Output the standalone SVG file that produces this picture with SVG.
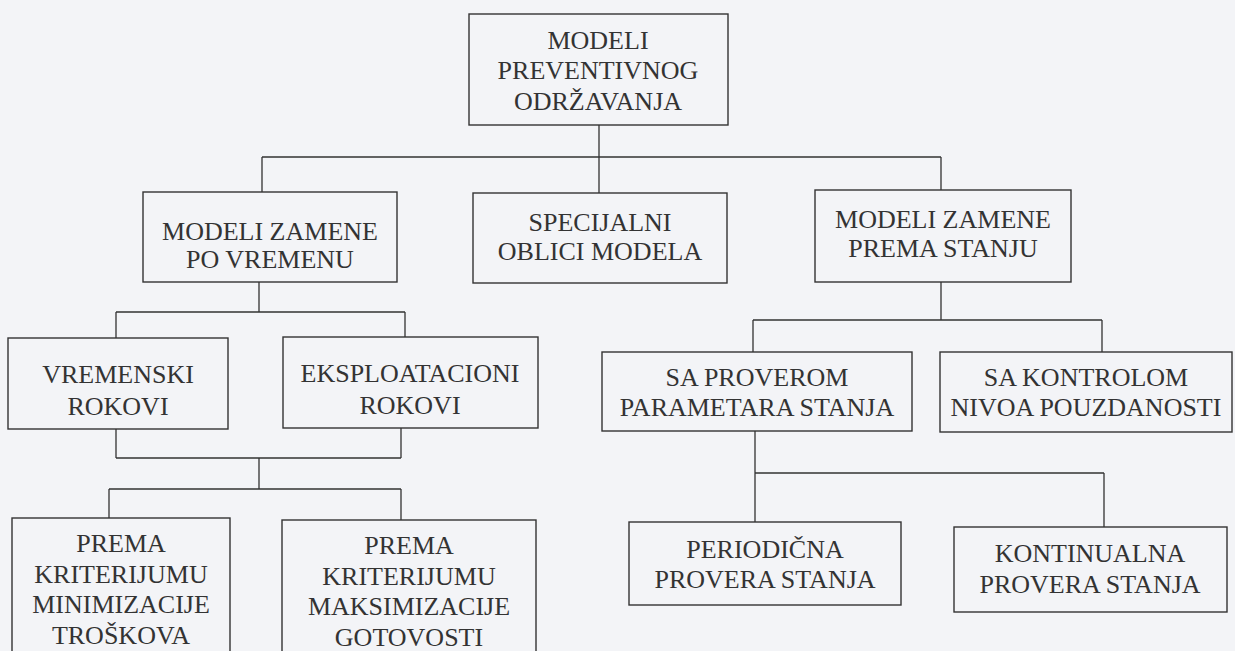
<svg xmlns="http://www.w3.org/2000/svg" width="1235" height="651" viewBox="0 0 1235 651">
<style>
.bg{fill:#f3f4f7}
.box{fill:none;stroke:#333;stroke-width:1.4}
.con{fill:none;stroke:#333;stroke-width:1.3}
.t{font-family:'Liberation Serif','DejaVu Serif',serif;font-size:26px;fill:#333;text-anchor:middle}
</style>
<rect class="bg" x="0" y="0" width="1235" height="651"/>
<g id="connectors">
<path class="con" d="M599 125V157M262 157H941M262 157V192M599 157V193M941 157V190"/>
<path class="con" d="M259 282V312M116 312H405M116 312V338M405 312V337"/>
<path class="con" d="M116 429V458M401 428V458M116 458H401M259 458V489M109 489H401M109 489V518M401 489V520"/>
<path class="con" d="M941 282V320M753 320H1102M753 320V352M1102 320V352"/>
<path class="con" d="M755 431V522M755 473H1104M1104 473V527"/>
</g>
<g font-family="Liberation Serif, DejaVu Serif, serif" font-size="26" fill="#333" text-anchor="middle">
<g id="root">
<rect class="box" x="469" y="14" width="259" height="111"/>
<text class="t" x="598" y="49">MODELI</text>
<text class="t" x="598" y="79">PREVENTIVNOG</text>
<text class="t" x="598" y="110">ODRŽAVANJA</text>
</g>
<g id="po-vremenu">
<rect class="box" x="143" y="192" width="254" height="90"/>
<text class="t" x="270" y="240">MODELI ZAMENE</text>
<text class="t" x="270" y="268">PO VREMENU</text>
</g>
<g id="specijalni">
<rect class="box" x="473" y="193" width="254" height="90"/>
<text class="t" x="600" y="231">SPECIJALNI</text>
<text class="t" x="600" y="260">OBLICI MODELA</text>
</g>
<g id="prema-stanju">
<rect class="box" x="815" y="190" width="256" height="92"/>
<text class="t" x="943" y="228">MODELI ZAMENE</text>
<text class="t" x="943" y="257">PREMA STANJU</text>
</g>
<g id="vremenski">
<rect class="box" x="8" y="338" width="220" height="91"/>
<text class="t" x="118" y="383">VREMENSKI</text>
<text class="t" x="118" y="415">ROKOVI</text>
</g>
<g id="eksploatacioni">
<rect class="box" x="283" y="337" width="255" height="91"/>
<text class="t" x="410" y="382">EKSPLOATACIONI</text>
<text class="t" x="410" y="414">ROKOVI</text>
</g>
<g id="sa-proverom">
<rect class="box" x="602" y="352" width="310" height="79"/>
<text class="t" x="757" y="386">SA PROVEROM</text>
<text class="t" x="757" y="416">PARAMETARA STANJA</text>
</g>
<g id="sa-kontrolom">
<rect class="box" x="940" y="352" width="292" height="80"/>
<text class="t" x="1086" y="386">SA KONTROLOM</text>
<text class="t" x="1086" y="416">NIVOA POUZDANOSTI</text>
</g>
<g id="minimizacije">
<rect class="box" x="12" y="518" width="218" height="150"/>
<text class="t" x="121" y="552">PREMA</text>
<text class="t" x="121" y="583">KRITERIJUMU</text>
<text class="t" x="121" y="613">MINIMIZACIJE</text>
<text class="t" x="121" y="644">TROŠKOVA</text>
</g>
<g id="maksimizacije">
<rect class="box" x="282" y="520" width="254" height="150"/>
<text class="t" x="409" y="554">PREMA</text>
<text class="t" x="409" y="585">KRITERIJUMU</text>
<text class="t" x="409" y="615">MAKSIMIZACIJE</text>
<text class="t" x="409" y="646">GOTOVOSTI</text>
</g>
<g id="periodicna">
<rect class="box" x="629" y="522" width="272" height="83"/>
<text class="t" x="765" y="558">PERIODIČNA</text>
<text class="t" x="765" y="588">PROVERA STANJA</text>
</g>
<g id="kontinualna">
<rect class="box" x="954" y="527" width="273" height="85"/>
<text class="t" x="1090" y="562">KONTINUALNA</text>
<text class="t" x="1090" y="593">PROVERA STANJA</text>
</g>
</g>
</svg>
